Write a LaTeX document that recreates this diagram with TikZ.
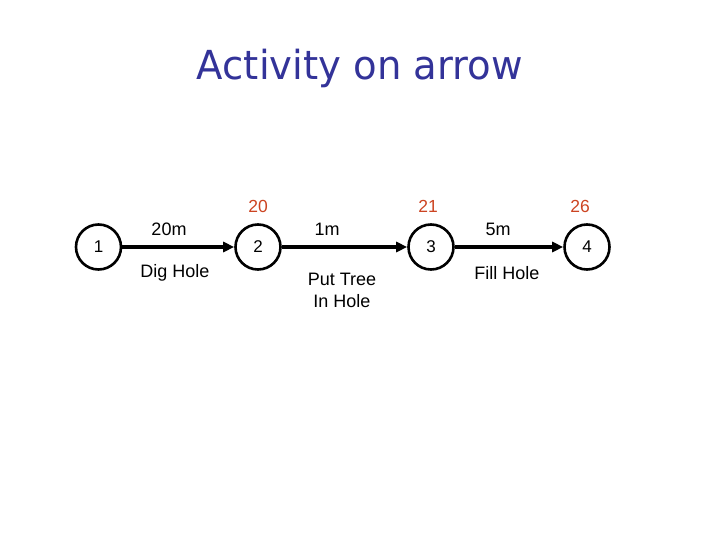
\documentclass[tikz,border=0pt]{standalone}
\usepackage{fontspec}
\setmainfont{Liberation Sans}
\newfontfamily\titlefont{DejaVu Sans}
\usetikzlibrary{arrows.meta}
\definecolor{titleblue}{RGB}{51,51,153}
\definecolor{timered}{RGB}{204,68,34}
\begin{document}
\begin{tikzpicture}[x=1pt,y=-1pt,
  event/.style={circle,draw=black,line width=2.6pt,minimum size=45pt,inner sep=0pt,font=\fontsize{17}{20}\selectfont},
  act/.style={line width=3.6pt,-{Triangle[length=11pt,width=10pt]}},
  lbl/.style={font=\fontsize{18}{22}\selectfont,align=center},
  tim/.style={font=\fontsize{17.5}{21}\selectfont,text=timered}]
\useasboundingbox (0,0) rectangle (720,540);
\node[font=\titlefont\fontsize{40}{48}\selectfont,text=titleblue,xscale=0.965] (title) at (360,68) {Activity on arrow};
\node[event] (e1) at (98.5,247) {1};
\node[event] (e2) at (258,247) {2};
\node[event] (e3) at (431,247) {3};
\node[event] (e4) at (587,247) {4};
\draw[act] (e1) -- (e2);
\draw[act] (e2) -- (e3);
\draw[act] (e3) -- (e4);
\node[tim] (t2) at (258,206) {20};
\node[tim] (t3) at (428,206) {21};
\node[tim] (t4) at (580,206) {26};
\node[lbl] (d1) at (169,229) {20m};
\node[lbl] (n1) at (175,273) {Dig Hole};
\node[lbl] (d2) at (327,229) {1m};
\node[lbl] (n2) at (342,290) {Put Tree\\In Hole};
\node[lbl] (d3) at (498,229) {5m};
\node[lbl] (n3) at (507,273) {Fill Hole};
\end{tikzpicture}
\end{document}
